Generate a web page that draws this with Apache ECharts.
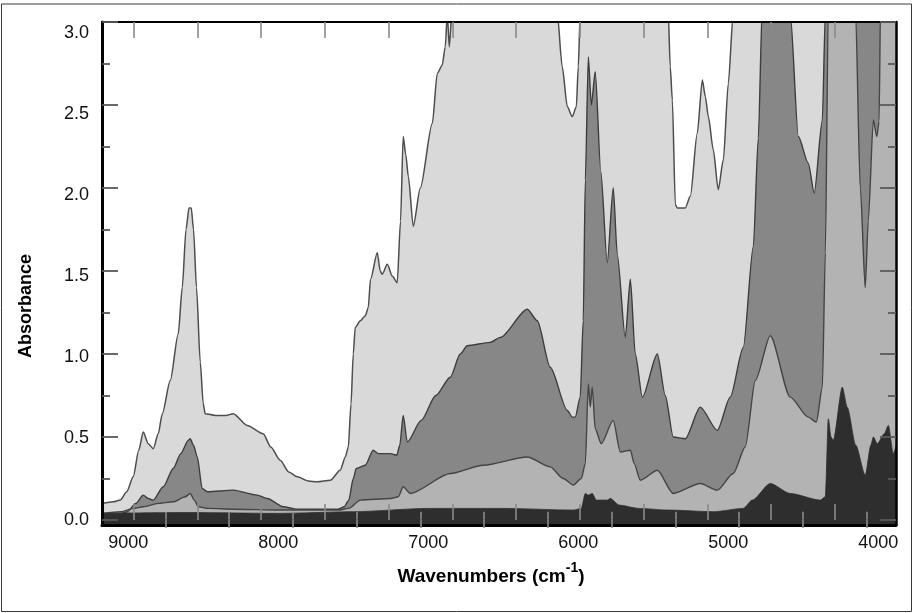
<!DOCTYPE html>
<html>
<head>
<meta charset="utf-8">
<title>Absorbance spectra</title>
<script src="https://cdn.jsdelivr.net/npm/echarts@6.0.0/dist/echarts.min.js"></script>
<style>
html,body{margin:0;padding:0;background:#fff;}
#chart{width:913px;height:613px;}
</style>
</head>
<body>
<div id="chart"></div>
<script>
// wavenumber (cm-1), absorbance ; values over 3.0 are cut by the plot frame
var spectrumA=[
	[9175,0.10],[9100,0.11],[9053,0.12],[9010,0.17],[8967,0.26],[8930,0.42],[8900,0.53],[8867,0.46],[8833,0.43],
	[8800,0.52],[8773,0.64],[8720,0.84],[8667,1.12],[8640,1.40],[8615,1.75],[8595,1.88],[8580,1.88],[8565,1.75],
	[8545,1.40],[8520,0.95],[8500,0.70],[8487,0.64],[8420,0.63],[8350,0.63],[8300,0.64],[8207,0.57],[8100,0.52],
	[8050,0.44],[7987,0.36],[7930,0.29],[7873,0.26],[7800,0.235],[7740,0.23],[7653,0.24],[7587,0.30],[7553,0.38],
	[7533,0.44],[7515,0.70],[7500,1.00],[7487,1.16],[7453,1.20],[7420,1.23],[7400,1.28],[7385,1.45],[7340,1.61],
	[7320,1.50],[7307,1.48],[7273,1.54],[7240,1.47],[7207,1.43],[7185,1.80],[7167,2.31],[7150,2.20],[7133,2.07],
	[7100,1.77],[7053,2.00],[6973,2.39],[6940,2.69],[6907,2.74],[6887,2.85],[6873,3.05],[6860,2.85],[6840,3.10],
	[6700,3.30],[6200,3.30],[6140,3.05],[6107,2.73],[6073,2.49],[6040,2.43],[6013,2.49],[6000,2.73],[5987,3.05],
	[5900,3.30],[5450,3.30],[5400,3.05],[5387,2.73],[5373,2.53],[5353,1.90],[5340,1.88],[5287,1.88],[5253,1.95],
	[5207,2.33],[5173,2.65],[5153,2.55],[5133,2.43],[5100,2.23],[5067,1.99],[5033,2.17],[5000,2.63],[4967,3.05],
	[4900,3.30],[3880,3.30]
];
var spectrumB=[
	[9175,0.04],[9050,0.04],[9007,0.05],[8950,0.10],[8900,0.15],[8867,0.13],[8833,0.12],[8767,0.20],[8700,0.31],
	[8650,0.40],[8600,0.48],[8587,0.49],[8565,0.45],[8540,0.38],[8507,0.19],[8473,0.17],[8300,0.18],[8140,0.15],
	[8073,0.13],[7967,0.08],[7873,0.065],[7600,0.065],[7560,0.08],[7530,0.12],[7500,0.25],[7480,0.31],[7420,0.33],
	[7367,0.42],[7333,0.40],[7253,0.40],[7210,0.39],[7190,0.45],[7167,0.63],[7140,0.47],[7047,0.60],[6950,0.75],
	[6853,0.86],[6787,1.00],[6740,1.05],[6587,1.07],[6520,1.10],[6340,1.27],[6273,1.20],[6187,0.92],[6073,0.66],
	[6040,0.62],[6020,0.62],[5987,0.74],[5967,1.20],[5953,2.05],[5933,2.79],[5913,2.50],[5887,2.70],[5850,2.10],
	[5807,1.55],[5767,2.00],[5740,1.60],[5687,1.10],[5653,1.45],[5620,1.00],[5573,0.74],[5473,1.00],[5420,0.75],
	[5367,0.50],[5287,0.49],[5187,0.68],[5073,0.54],[4987,0.74],[4900,1.04],[4833,1.65],[4800,2.30],[4773,3.10],
	[4700,3.30],[4620,3.30],[4587,3.05],[4533,2.31],[4467,2.15],[4427,1.97],[4373,2.41],[4353,3.05],[4300,3.30],
	[3880,3.30]
];
var spectrumC=[
	[9175,0.04],[9050,0.05],[8967,0.07],[8900,0.08],[8800,0.10],[8700,0.11],[8620,0.14],[8587,0.16],[8560,0.12],
	[8533,0.08],[8467,0.07],[8300,0.065],[8000,0.06],[7600,0.06],[7530,0.07],[7453,0.12],[7250,0.13],[7200,0.14],
	[7167,0.20],[7120,0.16],[6853,0.28],[6633,0.33],[6340,0.38],[6187,0.32],[6100,0.25],[6033,0.21],[5980,0.25],
	[5953,0.34],[5933,0.82],[5920,0.68],[5907,0.80],[5887,0.55],[5847,0.46],[5767,0.60],[5720,0.41],[5653,0.42],
	[5627,0.34],[5587,0.24],[5473,0.30],[5367,0.16],[5187,0.22],[5073,0.18],[4967,0.28],[4887,0.44],[4820,0.84],
	[4720,1.11],[4587,0.74],[4467,0.62],[4413,0.59],[4373,0.80],[4353,1.61],[4333,3.10],[4300,3.30],[4180,3.30],
	[4153,3.10],[4120,2.00],[4087,1.40],[4067,1.80],[4033,2.41],[4010,2.31],[3995,2.40],[3985,3.10],[3880,3.30]
];
var spectrumD=[
	[9175,0.04],[8600,0.045],[8000,0.04],[7500,0.05],[7000,0.07],[6500,0.07],[6033,0.06],[5980,0.07],[5953,0.16],
	[5933,0.15],[5907,0.16],[5880,0.12],[5807,0.12],[5787,0.13],[5727,0.09],[5600,0.07],[5400,0.06],[5100,0.05],
	[4900,0.07],[4840,0.12],[4720,0.22],[4587,0.16],[4387,0.12],[4353,0.14],[4333,0.61],[4315,0.50],[4300,0.48],
	[4240,0.80],[4207,0.68],[4150,0.45],[4087,0.27],[4050,0.45],[4033,0.50],[4007,0.46],[3960,0.52],[3933,0.57],
	[3900,0.40],[3880,0.45]
];

var xTickLabels=[9000,8000,7000,6000,5000,4000];
var yTickLabels=[0,0.5,1.0,1.5,2.0,2.5,3.0];
var yMinorTicks=[0.25,0.75,1.25,1.75,2.25,2.75];
// tick marks along top and bottom frame (they do not line up with the labels)
var xLongTicks=[8965,8540,8115,7690,7265,6840,6415,5990,5565,5140,4715,4290];
var xShortTicks=[8753,8328,7903,7478,7053,6628,6203,5778,5353,4928,4503,4078];

var FONT='"Liberation Sans", Arial, sans-serif';
var X_MIN=3882, X_MAX=9175, Y_MIN=-0.03, Y_MAX=3.0;
var gridBox={left:102,top:22,right:17,bottom:88};

var chart=echarts.init(document.getElementById('chart'),null,{renderer:'canvas'});

function xAx(grid,pos,opt){
	return {
		type:'value',gridIndex:grid,position:pos,min:X_MIN,max:X_MAX,inverse:true,z:10,
		splitLine:{show:false},
		axisLine:opt.line ? {show:true,onZero:false,lineStyle:{color:'#000',width:opt.line}} : {show:false},
		axisTick:opt.ticks ? {show:true,inside:true,length:opt.len,customValues:opt.ticks,
			lineStyle:{color:opt.tickColor||'#8a8a8a',width:1.6}} : {show:false},
		axisLabel:opt.labels ? {show:true,customValues:opt.labels,margin:9,color:'#111',fontSize:18,fontFamily:FONT,
			formatter:function(v){return String(v);}} : {show:false}
	};
}
function yAx(grid,pos,opt){
	return {
		type:'value',gridIndex:grid,position:pos,min:opt.min!=null?opt.min:Y_MIN,max:opt.max!=null?opt.max:Y_MAX,z:10,
		splitLine:{show:false},
		axisLine:opt.line ? {show:true,onZero:false,lineStyle:{color:'#000',width:opt.line}} : {show:false},
		axisTick:opt.ticks ? {show:true,inside:true,length:opt.len,customValues:opt.ticks,
			lineStyle:{color:'#5a5a5a',width:1.8}} : {show:false},
		axisLabel:opt.labels ? {show:true,customValues:opt.labels,margin:13,color:'#111',fontSize:18,fontFamily:FONT,
			formatter:function(v){return v.toFixed(1);}} : {show:false}
	};
}

function spectrum(name,data,fill,line,width){
	return {
		name:name,type:'line',xAxisIndex:0,yAxisIndex:0,data:data,
		symbol:'none',smooth:0.25,smoothMonotone:'x',clip:true,animation:false,
		lineStyle:{color:line,width:width},
		areaStyle:{color:fill,opacity:1,origin:'start'}
	};
}

var option={
	backgroundColor:'#ffffff',
	animation:false,
	grid:[
		Object.assign({},gridBox),
		Object.assign({},gridBox),
		Object.assign({},gridBox)
	],
	xAxis:[
		xAx(0,'bottom',{line:3,labels:xTickLabels}),
		xAx(0,'top',{line:2,ticks:xLongTicks,len:16}),
		xAx(1,'bottom',{ticks:xLongTicks,len:16}),
		xAx(1,'top',{ticks:xShortTicks,len:8}),
		xAx(2,'bottom',{ticks:xShortTicks,len:8})
	],
	yAxis:[
		yAx(0,'left',{line:3,ticks:yTickLabels,len:16}),
		yAx(0,'right',{line:2.5,ticks:yTickLabels,len:16}),
		yAx(1,'left',{ticks:yMinorTicks,len:8}),
		yAx(1,'right',{ticks:yMinorTicks,len:8}),
		// the printed numbers sit on a slightly different scale than the tick marks
		yAx(2,'left',{labels:yTickLabels,min:-0.033,max:3.065})
	],
	series:[
		spectrum('A',spectrumA,'#d9d9d9','#4d4d4d',1.5),
		spectrum('B',spectrumB,'#878787','#3d3d3d',1.4),
		spectrum('C',spectrumC,'#b3b3b3','#444444',1.4),
		spectrum('D',spectrumD,'#2e2e2e','#2e2e2e',0.8)
	],
	graphic:[
		{
			type:'rect',silent:true,z:100,
			shape:{x:1.5,y:4,width:910,height:607.5},
			style:{fill:null,stroke:'#3a3a3a',lineWidth:1}
		},
		{
			type:'text',silent:true,z:100,x:26,y:306,rotation:Math.PI/2,
			style:{text:'Absorbance',fill:'#000',font:'bold 18px '+FONT,align:'center',verticalAlign:'middle'}
		},
		{
			type:'text',silent:true,z:100,x:491,y:577,
			style:{
				text:'{a|Wavenumbers (cm}{s|-1}{a|)}',
				align:'center',verticalAlign:'middle',
				rich:{
					a:{fill:'#000',fontSize:19,fontWeight:'bold',fontFamily:FONT,lineHeight:32,verticalAlign:'middle'},
					s:{fill:'#000',fontSize:14,fontWeight:'bold',fontFamily:FONT,verticalAlign:'top'}
				}
			}
		}
	]
};
chart.setOption(option);
</script>
</body>
</html>
